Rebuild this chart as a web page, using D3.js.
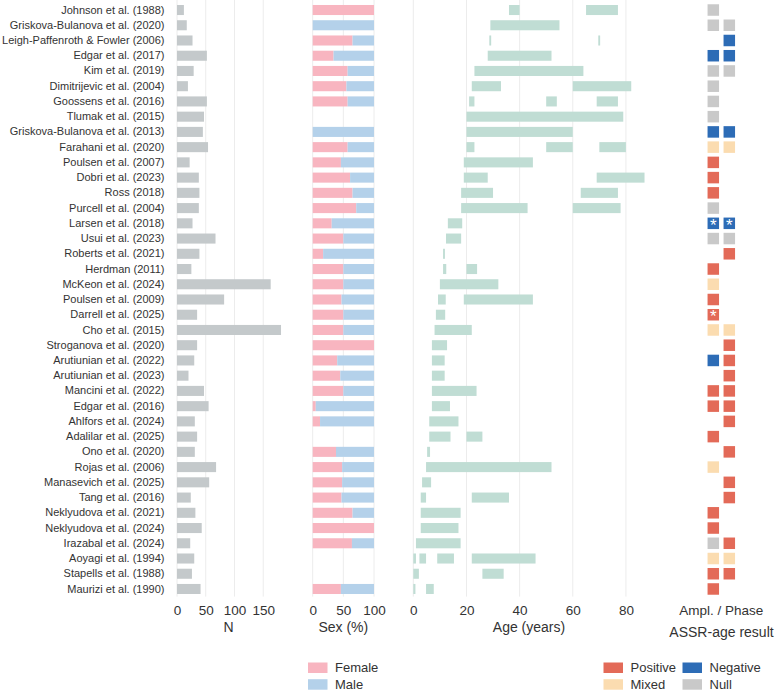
<!DOCTYPE html>
<html>
<head>
<meta charset="utf-8">
<script src="https://cdn.jsdelivr.net/npm/d3@7"></script>
<style>
  body { margin: 0; background: #fff; }
  svg text { font-family: "Liberation Sans", Arial, sans-serif; fill: #333; }
  .axis path { display: none; }
  .axis line { display: none; }
</style>
</head>
<body>
<div id="chart"></div>
<script>

// study labels, top to bottom
var studies = [
	"Johnson et al. (1988)", "Griskova-Bulanova et al. (2020)", "Leigh-Paffenroth & Fowler (2006)",
	"Edgar et al. (2017)", "Kim et al. (2019)", "Dimitrijevic et al. (2004)", "Goossens et al. (2016)",
	"Tlumak et al. (2015)", "Griskova-Bulanova et al. (2013)", "Farahani et al. (2020)",
	"Poulsen et al. (2007)", "Dobri et al. (2023)", "Ross (2018)", "Purcell et al. (2004)",
	"Larsen et al. (2018)", "Usui et al. (2023)", "Roberts et al. (2021)", "Herdman (2011)",
	"McKeon et al. (2024)", "Poulsen et al. (2009)", "Darrell et al. (2025)", "Cho et al. (2015)",
	"Stroganova et al. (2020)", "Arutiunian et al. (2022)", "Arutiunian et al. (2023)",
	"Mancini et al. (2022)", "Edgar et al. (2016)", "Ahlfors et al. (2024)", "Adalilar et al. (2025)",
	"Ono et al. (2020)", "Rojas et al. (2006)", "Manasevich et al. (2025)", "Tang et al. (2016)",
	"Neklyudova et al. (2021)", "Neklyudova et al. (2024)", "Irazabal et al. (2024)",
	"Aoyagi et al. (1994)", "Stapells et al. (1988)", "Maurizi et al. (1990)"
];

// sample size
var nValues = [12, 17, 27, 52, 29, 19, 52, 47, 45, 54, 22, 38, 39, 38, 27, 67, 39, 25, 163, 82,
	35, 181, 35, 30, 20, 47, 55, 31, 35, 31, 68, 56, 24, 32, 43, 23, 30, 26, 41];

// percent female (null = not reported)
var femalePct = [100, 0, 65, 34, 57, 55, 57, null, 0, 57, 46, 61, 65, 71, 31, 50, 17, 50, 50, 47,
	50, 50, 100, 40, 45, 50, 5, 12, null, 38, 48, 48, 47, 65, 100, 64, null, null, 46];

// age ranges of the groups (years)
var ageRanges = [
	[[36, 40], [65, 77]],
	[[29, 55]],
	[[28.6, 29.3], [69.6, 70.3]],
	[[28, 52]],
	[[23, 64]],
	[[22, 33], [60, 82]],
	[[21, 23], [50, 54], [69, 77]],
	[[20, 79]],
	[[20, 60]],
	[[20, 23], [50, 60], [70, 80]],
	[[19, 45]],
	[[19, 28], [69, 87]],
	[[18, 30], [63, 77]],
	[[18, 43], [60, 78]],
	[[13, 18.4]],
	[[12.3, 18]],
	[[11.2, 11.9]],
	[[11.2, 12.4], [20, 24]],
	[[10, 32]],
	[[9.3, 12.2], [19, 45]],
	[[8.5, 12]],
	[[8, 22]],
	[[7, 12.7]],
	[[7, 11.8]],
	[[7, 11.8]],
	[[7, 23.8]],
	[[7, 13.8]],
	[[6, 17]],
	[[6, 14], [20, 26]],
	[[5.2, 6.3]],
	[[4.8, 52]],
	[[3.3, 6.7]],
	[[2.8, 4.8], [22, 36]],
	[[2.8, 17.8]],
	[[2.8, 17]],
	[[1, 17.8]],
	[[0, 1], [2.3, 4.8], [9, 15.3], [22, 46]],
	[[0, 2.1], [26, 34]],
	[[0, 0.8], [4.8, 7.7]]
];

// ASSR-age result, amplitude and phase (null = not assessed)
var amplResult = ["Null", "Null", null, "Negative", "Null", "Null", "Null", "Null", "Negative", "Mixed",
	"Positive", "Positive", "Positive", "Null", "Negative", "Null", null, "Positive", "Mixed", "Positive",
	"Positive", "Mixed", null, "Negative", null, "Positive", "Positive", null, "Positive", null,
	"Mixed", null, null, "Positive", "Positive", "Null", "Mixed", "Positive", "Positive"];
var phaseResult = [null, "Null", "Negative", "Negative", "Null", null, null, null, "Negative", "Mixed",
	null, null, null, null, "Negative", "Null", "Positive", null, null, null,
	null, "Mixed", "Positive", "Positive", "Positive", "Positive", "Positive", "Positive", null, "Positive",
	null, "Positive", "Positive", null, null, "Positive", "Mixed", "Positive", null];
var amplStar = ["Larsen et al. (2018)", "Darrell et al. (2025)"];
var phaseStar = ["Larsen et al. (2018)"];

var resultKeys = ["Positive", "Negative", "Mixed", "Null"];
var resultColors = ["#e36a58", "#2d6cb6", "#fbdcb0", "#c9c9c9"];
var sexKeys = ["Female", "Male"];
var sexColors = ["#f8b5c0", "#b4d1ea"];

var nTicks = [0, 50, 100, 150];
var sexTicks = [0, 50, 100];
var ageTicks = [0, 20, 40, 60, 80];
var resultCols = ["Ampl.", "Phase"];

var width = 776, height = 694;
var gridColor = "#ececec";

var svg = d3.select("#chart").append("svg")
	.attr("width", width)
	.attr("height", height);

// rows
var y = d3.scaleBand()
	.domain(studies)
	.range([2.4, 596.6])
	.paddingInner(0.34)
	.paddingOuter(0.17);
var plotBottom = 596.6;

// x scales for each panel
var xN = d3.scaleLinear().domain([0, 190]).range([177, 286.2]);
var xSex = d3.scaleLinear().domain([0, 100]).range([312.7, 374]);
var xAge = d3.scaleLinear().domain([0, 90]).range([413.3, 652.5]);
var xRes = d3.scalePoint().domain(resultCols).range([713.3, 729.3]);
var colRes = d3.scaleOrdinal().domain(resultKeys).range(resultColors);

var grid = function(scale, ticks) {
	svg.append("g")
	.selectAll("line")
	.data(ticks)
	.enter()
	.append("line")
	.attr("x1", function(d) { return scale(d); })
	.attr("x2", function(d) { return scale(d); })
	.attr("y1", 0)
	.attr("y2", plotBottom)
	.attr("stroke", gridColor)
	.attr("stroke-width", 1);
}

grid(xN, nTicks);
grid(xSex, sexTicks);
grid(xAge, ageTicks);

// study labels
svg.append("g")
.attr("class", "axis")
.attr("transform", "translate(" + xN(0) + ",0)")
.call(d3.axisLeft(y).tickSize(0).tickPadding(12.5))
.selectAll("text")
.style("font-size", "11px");

// N bars
svg.append("g")
.selectAll("rect")
.data(studies)
.enter()
.append("rect")
.attr("x", xN(0))
.attr("y", function(d) { return y(d); })
.attr("width", function(d, i) { return xN(nValues[i]) - xN(0); })
.attr("height", y.bandwidth())
.attr("fill", "#c4c9cb");

// sex bars (female then male)
var sexData = [];
studies.forEach(function(s, i) {
	if (femalePct[i] === null) return;
	sexData.push({study: s, key: "Female", x0: 0, x1: femalePct[i]});
	sexData.push({study: s, key: "Male", x0: femalePct[i], x1: 100});
});
svg.append("g")
.selectAll("rect")
.data(sexData.filter(function(d) { return d.x1 > d.x0; }))
.enter()
.append("rect")
.attr("x", function(d) { return xSex(d.x0); })
.attr("y", function(d) { return y(d.study); })
.attr("width", function(d) { return xSex(d.x1) - xSex(d.x0); })
.attr("height", y.bandwidth())
.attr("fill", function(d) { return sexColors[sexKeys.indexOf(d.key)]; });

// age bars
var ageData = [];
studies.forEach(function(s, i) {
	ageRanges[i].forEach(function(r) {
		ageData.push({study: s, a0: r[0], a1: r[1]});
	});
});
svg.append("g")
.selectAll("rect")
.data(ageData)
.enter()
.append("rect")
.attr("x", function(d) { return xAge(d.a0); })
.attr("y", function(d) { return y(d.study); })
.attr("width", function(d) { return xAge(d.a1) - xAge(d.a0); })
.attr("height", y.bandwidth())
.attr("fill", "#c0ddd4");

// result tiles
var resData = [];
studies.forEach(function(s, i) {
	if (amplResult[i]) resData.push({study: s, col: "Ampl.", res: amplResult[i], star: amplStar.indexOf(s) >= 0});
	if (phaseResult[i]) resData.push({study: s, col: "Phase", res: phaseResult[i], star: phaseStar.indexOf(s) >= 0});
});
var tile = 11.5;
var tiles = svg.append("g")
.selectAll("g")
.data(resData)
.enter()
.append("g")
.attr("transform", function(d) {
	return "translate(" + xRes(d.col) + "," + (y(d.study) + y.bandwidth() / 2) + ")";
});
tiles.append("rect")
.attr("x", -tile / 2)
.attr("y", -tile / 2)
.attr("width", tile)
.attr("height", tile)
.attr("fill", function(d) { return colRes(d.res); });
tiles.filter(function(d) { return d.star; })
.append("text")
.attr("text-anchor", "middle")
.attr("y", 7.6)
.style("font-size", "17px")
.style("fill", "#fff")
.text("*");

// bottom axes
var bottomAxis = function(scale, ticks, fmt) {
	var g = svg.append("g")
	.attr("class", "axis")
	.attr("transform", "translate(0," + plotBottom + ")")
	.call(d3.axisBottom(scale).tickValues(ticks).tickSize(0).tickPadding(9.3).tickFormat(fmt || d3.format("d")));
	g.selectAll("text").style("font-size", "13.5px");
}
bottomAxis(xN, nTicks);
bottomAxis(xSex, sexTicks);
bottomAxis(xAge, ageTicks);

svg.append("text")
.attr("x", (xRes("Ampl.") + xRes("Phase")) / 2)
.attr("y", 615)
.attr("text-anchor", "middle")
.style("font-size", "13.5px")
.text("Ampl. / Phase");

// axis titles, centred on each panel
var titles = [
	{text: "N", x: 228.5, y: 632},
	{text: "Sex (%)", x: xSex(50), y: 632},
	{text: "Age (years)", x: 529, y: 632},
	{text: "ASSR-age result", x: 721.5, y: 637}
];
svg.append("g")
.selectAll("text")
.data(titles)
.enter()
.append("text")
.attr("x", function(d) { return d.x; })
.attr("y", function(d) { return d.y; })
.attr("text-anchor", "middle")
.style("font-size", "14px")
.text(function(d) { return d.text; });

// legends
var legend = function(keys, colors, x0, y0, colW) {
	var g = svg.append("g")
	.attr("transform", "translate(" + x0 + "," + y0 + ")");
	var item = g.selectAll("g")
	.data(keys)
	.enter()
	.append("g")
	.attr("transform", function(d, i) {
		return "translate(" + (Math.floor(i / 2) * colW) + "," + ((i % 2) * 16.7) + ")";
	});
	item.append("rect")
	.attr("width", 19.5)
	.attr("height", 10.5)
	.attr("fill", function(d, i) { return colors[i]; });
	item.append("text")
	.attr("x", 27)
	.attr("y", 9.8)
	.style("font-size", "13px")
	.text(function(d) { return d; });
}
legend(sexKeys, sexColors, 308, 662.5, 0);
legend(["Positive", "Mixed", "Negative", "Null"],
	["#e36a58", "#fbdcb0", "#2d6cb6", "#c9c9c9"], 603.5, 662.5, 79);

</script>
</body>
</html>
